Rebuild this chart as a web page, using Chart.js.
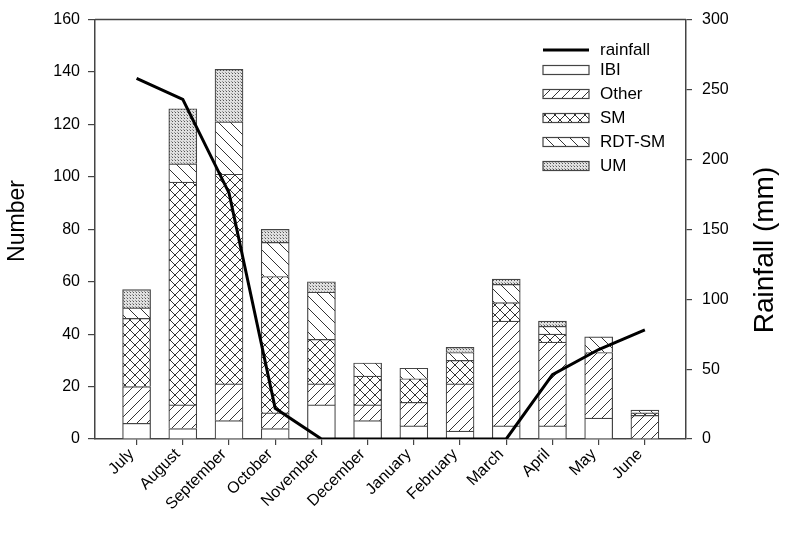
<!DOCTYPE html>
<html><head><meta charset="utf-8">
<script src="https://cdn.jsdelivr.net/npm/chart.js@4/dist/chart.umd.min.js"></script>
<style>html,body{margin:0;padding:0;background:#fff}#wrap{width:787px;height:536px}</style>
</head><body><div id="wrap"><canvas id="c" width="787" height="536"></canvas></div>
<script>
const months = ['July','August','September','October','November','December','January','February','March','April','May','June'];
const ibi      = [6, 4, 7, 4, 13, 7, 5, 3, 5, 5, 8, 0];
const other    = [14, 9, 14, 6, 8, 6, 9, 18, 40, 32, 25, 9];
const sm       = [26, 85, 80, 52, 17, 11, 9, 9, 7, 3, 0, 1];
const rdtsm    = [4, 7, 20, 13, 18, 5, 4, 3, 7, 3, 6, 1];
const um       = [7, 21, 20, 5, 4, 0, 0, 2, 2, 2, 0, 0];
const rainfall = [258, 243, 176, 22, 0, 0, 0, 0, 0, 46, 64, 78];
const numberTicks = [0, 20, 40, 60, 80, 100, 120, 140, 160];
const rainTicks = [0, 50, 100, 150, 200, 250, 300];

const FONT = '"Liberation Sans", Arial, sans-serif';
const AX = '#444';

function tile(size, draw) {
  const c = document.createElement('canvas');
  c.width = size; c.height = size;
  const g = c.getContext('2d');
  g.fillStyle = '#fff'; g.fillRect(0, 0, size, size);
  g.strokeStyle = '#333'; g.lineWidth = 1;
  draw(g, size);
  return document.getElementById('c').getContext('2d').createPattern(c, 'repeat');
}
function fwd(g, s) { // "/"
  g.beginPath();
  g.moveTo(0, s); g.lineTo(s, 0);
  g.moveTo(-1, 1); g.lineTo(1, -1);
  g.moveTo(s - 1, s + 1); g.lineTo(s + 1, s - 1);
  g.stroke();
}
function back(g, s) { // "\"
  g.beginPath();
  g.moveTo(0, 0); g.lineTo(s, s);
  g.moveTo(-1, s - 1); g.lineTo(1, s + 1);
  g.moveTo(s - 1, -1); g.lineTo(s + 1, 1);
  g.stroke();
}
const patOther = tile(10, fwd);
const patSM = tile(10, (g, s) => { fwd(g, s); back(g, s); });
const patRDT = tile(12, back);
const patUM = (() => {
  const c = document.createElement('canvas'); c.width = 3; c.height = 3;
  const g = c.getContext('2d');
  g.fillStyle = '#e0e0e0'; g.fillRect(0, 0, 3, 3);
  g.fillStyle = '#555'; g.fillRect(1, 1, 1, 1);
  g.fillStyle = '#999'; g.fillRect(0, 0, 1, 1);
  return document.getElementById('c').getContext('2d').createPattern(c, 'repeat');
})();

const toXY = arr => arr.map((v, i) => ({ x: i, y: v === 0 ? null : v }));
function barSet(label, arr, fill) {
  return { type: 'bar', label, data: toXY(arr), backgroundColor: fill, borderColor: AX,
    borderWidth: 1.2, barThickness: 28, yAxisID: 'y', xAxisID: 'x', order: 1 };
}

const legendItems = [
  { label: 'rainfall', kind: 'line' },
  { label: 'IBI', fill: '#fff' },
  { label: 'Other', fill: patOther },
  { label: 'SM', fill: patSM },
  { label: 'RDT-SM', fill: patRDT },
  { label: 'UM', fill: patUM }
];

const decor = {
  id: 'decor',
  afterDraw(chart) {
    const c = chart.ctx, a = chart.chartArea;
    c.save();
    c.strokeStyle = AX; c.lineWidth = 1.5;
    c.beginPath(); c.moveTo(a.left, a.top); c.lineTo(a.right, a.top); c.stroke();
    const bx = 543, bw = 46, tx = 600;
    const rows = [50, 70, 94, 118, 142, 166];
    c.font = '17px ' + FONT; c.textBaseline = 'middle'; c.textAlign = 'left';
    legendItems.forEach((it, k) => {
      const y = rows[k];
      if (it.kind === 'line') {
        c.strokeStyle = '#000'; c.lineWidth = 3;
        c.beginPath(); c.moveTo(bx, y); c.lineTo(bx + bw, y); c.stroke();
      } else {
        c.fillStyle = it.fill; c.fillRect(bx, y - 4.5, bw, 9);
        c.strokeStyle = AX; c.lineWidth = 1.2; c.strokeRect(bx, y - 4.5, bw, 9);
      }
      c.fillStyle = '#000';
      c.fillText(it.label, tx, y);
    });
    c.fillStyle = '#000'; c.textAlign = 'center'; c.textBaseline = 'middle';
    c.font = '23px ' + FONT;
    c.save(); c.translate(18, 221); c.rotate(-Math.PI / 2); c.fillText('Number', 0, 0); c.restore();
    c.font = '28px ' + FONT;
    c.save(); c.translate(765, 250); c.rotate(-Math.PI / 2); c.fillText('Rainfall (mm)', 0, 0); c.restore();
    c.restore();
  }
};

new Chart(document.getElementById('c'), {
  data: {
    datasets: [
      { type: 'line', label: 'rainfall', data: rainfall.map((v, i) => ({ x: i, y: v })), yAxisID: 'y2', xAxisID: 'x',
        borderColor: '#000', borderWidth: 3, pointRadius: 0, tension: 0, order: 0 },
      barSet('IBI', ibi, '#fff'),
      barSet('Other', other, patOther),
      barSet('SM', sm, patSM),
      barSet('RDT-SM', rdtsm, patRDT),
      barSet('UM', um, patUM)
    ]
  },
  options: {
    responsive: false, animation: false, devicePixelRatio: 1,
    layout: { padding: { top: 14, left: 0, right: 0, bottom: 0 } },
    plugins: { legend: { display: false }, tooltip: { enabled: false } },
    scales: {
      x: {
        type: 'linear', min: -0.9, max: 11.89, stacked: true, position: 'bottom', offset: false,
        afterBuildTicks: s => { s.ticks = months.map((m, i) => ({ value: i })); },
        afterFit: s => { s.height = 97; },
        ticks: { callback: v => months[v], maxRotation: 45, minRotation: 45, autoSkip: false,
          color: '#000', font: { family: FONT, size: 16 }, padding: 0, labelOffset: -5 },
        grid: { display: true, offset: false, drawOnChartArea: false, tickLength: 6, color: AX, lineWidth: 1.2 },
        border: { color: AX, width: 1.5 }
      },
      y: {
        position: 'left', min: 0, max: 160, stacked: true,
        afterBuildTicks: s => { s.ticks = numberTicks.map(v => ({ value: v })); },
        afterFit: s => { s.width = 95; },
        ticks: { color: '#000', font: { family: FONT, size: 16 }, padding: 8 },
        grid: { display: true, drawOnChartArea: false, tickLength: 7, color: AX, lineWidth: 1.2 },
        border: { color: AX, width: 1.5 }
      },
      y2: {
        position: 'right', min: 0, max: 300,
        afterBuildTicks: s => { s.ticks = rainTicks.map(v => ({ value: v })); },
        afterFit: s => { s.width = 101; },
        ticks: { color: '#000', font: { family: FONT, size: 16 }, padding: 10 },
        grid: { display: true, drawOnChartArea: false, tickLength: 6, color: AX, lineWidth: 1.2 },
        border: { color: AX, width: 1.5 }
      }
    }
  },
  plugins: [decor]
});
</script>
</body></html>
